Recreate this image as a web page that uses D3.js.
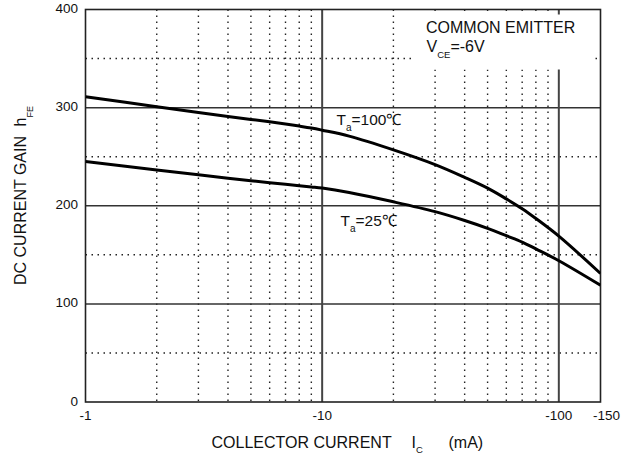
<!DOCTYPE html>
<html>
<head>
<meta charset="utf-8">
<script src="https://cdn.jsdelivr.net/npm/d3@7"></script>
<style>
  html, body { margin: 0; padding: 0; background: #fff; }
  svg { display: block; }
  text { font-family: "Liberation Sans", Arial, Helvetica, sans-serif; fill: #111; }
</style>
</head>
<body>
<svg id="chart" width="633" height="456"></svg>
<script>
// Collector current (mA, magnitude) and DC current gain hFE for two ambient temperatures
const collectorCurrent = [1, 2, 3, 4, 5, 6, 7, 8, 9, 10, 13, 20, 30, 40, 50, 60, 70, 80, 100, 150];
const gainTa100 = [311, 301, 295, 291, 288, 285.5, 283.3, 281.2, 279.2, 277, 271, 257, 242, 229, 218, 207, 197, 187, 169, 131];
const gainTa25  = [245, 236.5, 231.5, 228, 225.5, 223.5, 222, 220.5, 219.2, 218, 213.5, 204, 194, 185, 177, 169.5, 163, 156, 144, 119];

// Axis ticks and grid
const xTickValues = [1, 10, 100, 150];
const xTickLabels = ["-1", "-10", "-100", "-150"];
const xMajorGrid = [10, 100];
const xMinorGrid = [2, 3, 4, 5, 6, 7, 8, 9, 20, 30, 40, 50, 60, 70, 80, 90];
const yTickValues = [0, 100, 200, 300, 400];
const yMajorGrid = [100, 200, 300];
const yMinorGrid = [50, 150, 250, 350];

const svg = d3.select("#chart");
const plotL = 85.5, plotR = 600.5, plotT = 9.5, plotB = 402;

const x = d3.scaleLog().domain([1, 150]).range([plotL, plotR]);
const y = d3.scaleLinear().domain([0, 400]).range([plotB, plotT]);

const grid = svg.append("g");

// dotted minor grid
grid.selectAll("line.xminor").data(xMinorGrid).join("line")
  .attr("x1", d => x(d)).attr("x2", d => x(d))
  .attr("y1", plotT).attr("y2", plotB)
  .attr("stroke", "#222").attr("stroke-width", 1.4)
  .attr("stroke-dasharray", "1.5,4.5");
grid.selectAll("line.yminor").data(yMinorGrid).join("line")
  .attr("x1", plotL).attr("x2", plotR)
  .attr("y1", d => y(d)).attr("y2", d => y(d))
  .attr("stroke", "#222").attr("stroke-width", 1.4)
  .attr("stroke-dasharray", "1.5,4.5");

// solid major grid
grid.selectAll("line.ymajor").data(yMajorGrid).join("line")
  .attr("x1", plotL).attr("x2", plotR)
  .attr("y1", d => y(d)).attr("y2", d => y(d))
  .attr("stroke", "#333").attr("stroke-width", 1.5);
grid.selectAll("line.xmajor").data(xMajorGrid).join("line")
  .attr("x1", d => x(d)).attr("x2", d => x(d))
  .attr("y1", plotT).attr("y2", plotB)
  .attr("stroke", "#444").attr("stroke-width", 2);

// plot frame
svg.append("rect")
  .attr("x", plotL).attr("y", plotT)
  .attr("width", plotR - plotL).attr("height", plotB - plotT)
  .attr("fill", "none").attr("stroke", "#222").attr("stroke-width", 1.6);

// white panel behind the test-condition note
svg.append("rect")
  .attr("x", 412).attr("y", 14.5).attr("width", 180).attr("height", 55)
  .attr("fill", "#fff");

svg.append("text").attr("x", 426).attr("y", 33.3)
  .style("font-size", "16px").text("COMMON EMITTER");
const vce = svg.append("text").attr("x", 426.5).attr("y", 52.3).style("font-size", "16px");
vce.append("tspan").text("V");
vce.append("tspan").attr("dy", 6).style("font-size", "9.5px").text("CE");
vce.append("tspan").attr("dy", -6).text("=-6V");

// curves
const line = d3.line()
  .x(d => x(d[0]))
  .y(d => y(d[1]))
  .curve(d3.curveCatmullRom.alpha(0.5));

svg.append("clipPath").attr("id", "plotClip")
  .append("rect").attr("x", plotL).attr("y", plotT)
  .attr("width", plotR - plotL).attr("height", plotB - plotT);

[gainTa100, gainTa25].forEach(series => {
  svg.append("path")
    .datum(d3.zip(collectorCurrent, series))
    .attr("clip-path", "url(#plotClip)")
    .attr("d", line)
    .attr("fill", "none")
    .attr("stroke", "#000")
    .attr("stroke-width", 3)
    .attr("stroke-linejoin", "round");
});

// curve labels
function tempLabel(px, py, value) {
  const t = svg.append("text").attr("x", px).attr("y", py).style("font-size", "15.5px");
  t.append("tspan").text("T");
  t.append("tspan").attr("dy", 5.5).style("font-size", "10px").text("a");
  t.append("tspan").attr("dy", -5.5).text("=" + value + "\u2103");
}
tempLabel(336.5, 125, 100);
tempLabel(340.5, 226, 25);

// x tick labels
svg.append("g").selectAll("text").data(xTickValues).join("text")
  .attr("x", (d, i) => x(d) + (i === xTickValues.length - 1 ? 6 : 0))
  .attr("y", 420.3)
  .attr("text-anchor", "middle")
  .style("font-size", "13.5px")
  .text((d, i) => xTickLabels[i]);

// y tick labels
svg.append("g").selectAll("text").data(yTickValues).join("text")
  .attr("x", 78)
  .attr("y", d => y(d) + 3.5)
  .attr("text-anchor", "end")
  .style("font-size", "13.5px")
  .text(d => d);

// x axis title
svg.append("text").attr("x", 211.5).attr("y", 447.7)
  .style("font-size", "16px").text("COLLECTOR CURRENT");
const ic = svg.append("text").attr("x", 411.5).attr("y", 447.7).style("font-size", "16px");
ic.append("tspan").text("I");
ic.append("tspan").attr("dy", 5.5).style("font-size", "9.5px").text("C");
svg.append("text").attr("x", 448.5).attr("y", 447.7)
  .style("font-size", "16px").text("(mA)");

// y axis title
const yt = svg.append("g").attr("transform", "translate(25.5,0) rotate(-90)");
yt.append("text").attr("x", -285).attr("y", 0)
  .style("font-size", "16px").text("DC CURRENT GAIN");
const hfe = yt.append("text").attr("x", -126.5).attr("y", 0).style("font-size", "16px");
hfe.append("tspan").text("h");
hfe.append("tspan").attr("dy", 7).style("font-size", "9px").text("FE");
</script>
</body>
</html>
